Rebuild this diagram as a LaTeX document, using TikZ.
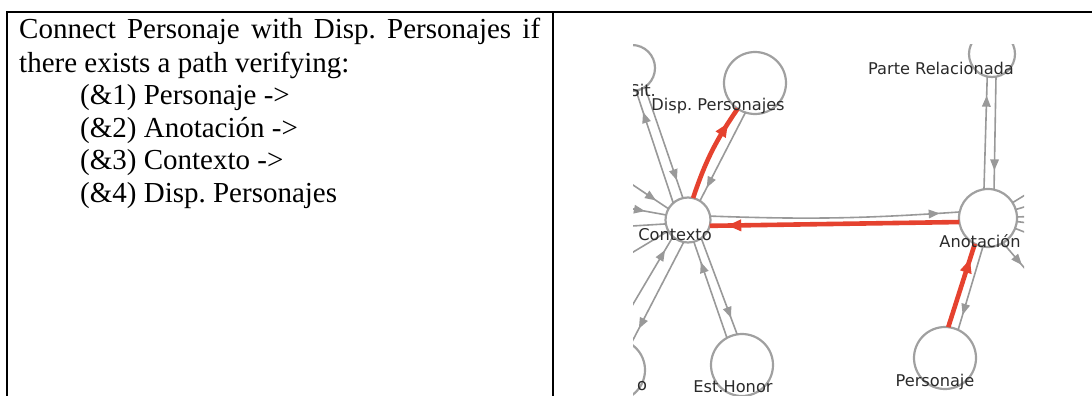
\documentclass[tikz,border=0pt]{standalone}
\usepackage{fontspec}
\setmainfont{Liberation Serif}
\newfontfamily\graphfont{DejaVu Sans}
\usetikzlibrary{arrows.meta,decorations.markings}
\frenchspacing
\definecolor{edgegray}{HTML}{999999}
\definecolor{nodegray}{HTML}{A0A0A0}
\definecolor{pathred}{HTML}{E5422F}
\definecolor{labelc}{HTML}{2A2A2A}
\tikzset{
 gnode/.style={circle,draw=nodegray,line width=2.2pt,inner sep=0pt,outer sep=0pt,minimum size=#1},
 glabel/.style={font=\graphfont\fontsize{16.2}{17}\selectfont,text=labelc,inner sep=0pt},
 gedge/.style={draw=edgegray,line width=1.6pt},
 garrow/.style={postaction={decorate},decoration={markings,mark=at position #1 with {\arrow{Triangle[length=11pt,width=8.5pt]}}}},
 redge/.style={draw=pathred,line width=4.6pt},
 rarrow/.style={postaction={decorate},decoration={markings,mark=at position #1 with {\arrow{Triangle[length=14pt,width=11pt]}}}},
 txt/.style={anchor=base west,inner sep=0pt,font=\fontsize{29}{33}\selectfont},
}
\begin{document}
\begin{tikzpicture}[x=1pt,y=-1pt]
\useasboundingbox (0,0) rectangle (1092,396);
% table rules
\draw[line width=2.4pt] (7,396) -- (7,12) -- (1092,12);
\draw[line width=2.4pt] (553,12) -- (553,396);
% left cell text
\node[txt] (t1) at (19,39) {\makebox[521pt][s]{Connect Personaje with Disp. Personajes if}};
\node[txt] (t2) at (19,72) {there exists a path verifying:};
\node[txt] (t3) at (80,104.5) {(\&1) Personaje ->};
\node[txt] (t4) at (80,137) {(\&2) Anotación ->};
\node[txt] (t5) at (80,169.5) {(\&3) Contexto ->};
\node[txt] (t6) at (80,202) {(\&4) Disp. Personajes};
% graph
\begin{scope}
\clip (633,45) rectangle (1024,396);
\node[gnode=62pt] (disp) at (755,83) {};
\node[gnode=46pt] (sit) at (632,68) {};
\node[gnode=46pt] (parte) at (992,54) {};
\node[gnode=45pt] (ctx) at (688,220) {};
\node[gnode=58pt] (anot) at (988,218) {};
\node[gnode=62pt] (pers) at (945,358) {};
\node[gnode=62pt] (esth) at (742,365) {};
\node[gnode=62pt] (bl) at (614,370) {};
\coordinate (l1) at (600,163);
\coordinate (l2) at (600,203);
\coordinate (l3) at (600,228);
\coordinate (l4) at (600,272);
\coordinate (r1) at (1056,176);
\coordinate (r2) at (1064,195);
\coordinate (r3) at (1068,215);
\coordinate (r4) at (1067,228);
\coordinate (r5) at (1063,247);
\coordinate (r6) at (1045,292);
% gray edges
\draw[gedge,garrow=0.92] (ctx.10) to[bend right=3] (anot.168);
\draw[gedge,garrow=0.85] (disp.252) -- (ctx.58);
\draw[gedge,garrow=0.83] (anot.98) -- (parte.258);
\draw[gedge,garrow=0.83] (parte.280) -- (anot.78);
\draw[gedge,garrow=0.82] (anot.260) -- (pers.65);
\draw[gedge,garrow=0.79] (esth.119) -- (ctx.285);
\draw[gedge,garrow=0.83] (ctx.306) -- (esth.99);
\draw[gedge,garrow=0.87] (bl.93) -- (ctx.228);
\draw[gedge,garrow=0.85] (ctx.259) -- (bl.57);
\draw[gedge,garrow=0.84] (sit.304) -- (ctx.103);
\draw[gedge,garrow=0.81] (ctx.131) -- (sit.280);
\draw[gedge,garrow=0.82] (l1) -- (ctx.150);
\draw[gedge,garrow=0.68] (l2) -- (ctx.167);
\draw[gedge] (ctx.190) -- (l3);
\draw[gedge] (ctx.209) -- (l4);
\draw[gedge] (anot.32) -- (r1);
\draw[gedge] (anot.17) -- (r2);
\draw[gedge] (anot.2) -- (r3);
\draw[gedge] (anot.-7) -- (r4);
\draw[gedge] (anot.-21) -- (r5);
\draw[gedge,garrow=0.45] (anot.301) -- (r6);
% red path
\draw[redge,rarrow=0.82] (pers.84) -- (anot.243);
\draw[redge,rarrow=0.93] (anot.188) -- (ctx.345);
\draw[redge,rarrow=0.83] (ctx.77) to[bend left=8] (disp.236);
% labels
\node[glabel] (ldisp) at (718,106) {Disp. Personajes};
\node[glabel,anchor=east] (lsit) at (656,90) {Sit.};
\node[glabel] (lparte) at (941,68) {Parte Relacionada};
\node[glabel] (lctx) at (675,235) {Contexto};
\node[glabel] (lanot) at (980,241) {Anotación};
\node[glabel] (lpers) at (935,382) {Personaje};
\node[glabel] (lesth) at (733,387) {Est.Honor};
\node[glabel] (lbl) at (642,386) {o};
\end{scope}
\end{tikzpicture}
\end{document}
